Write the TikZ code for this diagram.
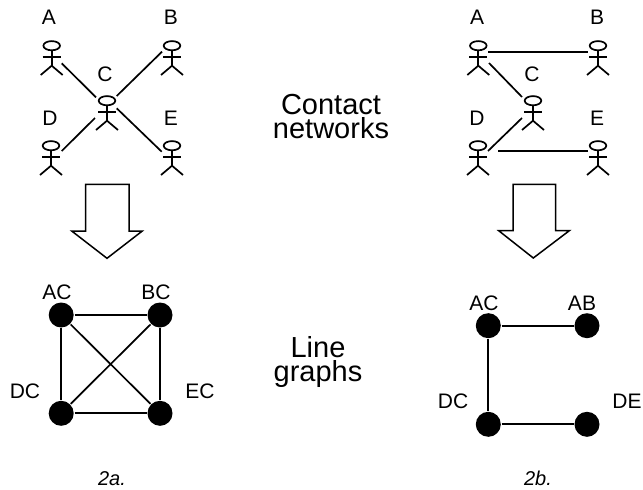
\documentclass[tikz,border=0pt]{standalone}
\usepackage{fontspec}
\setmainfont{Liberation Sans}
\tikzset{
  x=1pt,y=-1pt,
  every path/.style={line width=1.7pt,line join=miter},
  lbl/.style={anchor=base,inner sep=0pt,font=\fontsize{21}{24}\selectfont},
  cap2/.style={anchor=base,inner sep=0pt,font=\fontsize{20}{24}\selectfont\itshape},
  title2/.style={anchor=base,inner sep=0pt,align=center,font=\fontsize{29}{24}\selectfont},
  dot/.style={circle,fill=black,draw=none,minimum size=25pt,inner sep=0pt},
  stickman/.pic={
    \draw (0,0) ellipse [x radius=8.3,y radius=4.6];
    \draw (0,4.6) -- (0,20);
    \draw (-9,11.6) -- (9,11.6);
    \draw (-11,29.3) -- (0,20) -- (11,29.3);
  },
  bigarrow/.style={draw=black,fill=white,line width=1.5pt},
  link/.style={line width=1.7pt}
}
\begin{document}
\begin{tikzpicture}
\useasboundingbox (0,0) rectangle (643,490);
% --- 2a contact network
\foreach \n/\px/\py in {A/51.7/45.7,B/172/45.7,C/107/100.7,D/51/145.7,E/172/145.7}{
  \coordinate (a\n) at (\px,\py);
  \pic at (\px,\py) {stickman};
}
\node[lbl] (alA) at (49,24.3) {A};
\node[lbl] (alB) at (171,24.3) {B};
\node[lbl] (alC) at (105,81) {C};
\node[lbl] (alD) at (50,125) {D};
\node[lbl] (alE) at (171,125) {E};
\draw[link] ([shift={(10,17.6)}]aA) -- ([shift={(-11,-3.4)}]aC);
\draw[link] ([shift={(-10,6)}]aB) -- ([shift={(9.7,-4.7)}]aC);
\draw[link] ([shift={(10.7,5.3)}]aD) -- ([shift={(-12,17.3)}]aC);
\draw[link] ([shift={(9.7,7.6)}]aC) -- ([shift={(-10.3,6)}]aE);
% --- 2b contact network
\foreach \n/\px/\py in {A/478.3/45.7,B/598/45.7,C/533/100.7,D/478/145.7,E/598/145.7}{
  \coordinate (b\n) at (\px,\py);
  \pic at (\px,\py) {stickman};
}
\node[lbl] (blA) at (477,24.3) {A};
\node[lbl] (blB) at (597,24.3) {B};
\node[lbl] (blC) at (532,81) {C};
\node[lbl] (blD) at (477,125) {D};
\node[lbl] (blE) at (597,125) {E};
\draw[link] ([shift={(10,6.3)}]bA) -- ([shift={(-10,6.3)}]bB);
\draw[link] ([shift={(10.7,17.3)}]bA) -- ([shift={(-11,-3.7)}]bC);
\draw[link] ([shift={(10,5.3)}]bD) -- ([shift={(-11,17.3)}]bC);
\draw[link] ([shift={(20,5.3)}]bD) -- ([shift={(-10,5.3)}]bE);
% --- big arrows
\draw[bigarrow] (85.7,184.3) -- (129,184.3) -- (129,231) -- (142.3,231) -- (107,258.3) -- (71.7,231) -- (85.7,231) -- cycle;
\draw[bigarrow] (513,184.3) -- (555.7,184.3) -- (555.7,230.7) -- (569.3,230.7) -- (533.3,258) -- (498.7,230.7) -- (513,230.7) -- cycle;
% --- 2a line graph
\node[dot] (AC) at (61.2,315) {};
\node[dot] (BC) at (160,315) {};
\node[dot] (DC) at (61.2,413.3) {};
\node[dot] (EC) at (160,413.3) {};
\draw[link] (AC) -- (BC);
\draw[link] (AC) -- (DC);
\draw[link] (BC) -- (EC);
\draw[link] (DC) -- (EC);
\draw[link] (AC) -- (EC);
\draw[link] (BC) -- (DC);
\node[lbl] (lAC) at (57,299) {AC};
\node[lbl] (lBC) at (156,299) {BC};
\node[lbl] (lDC) at (25,398) {DC};
\node[lbl] (lEC) at (200,398) {EC};
% --- 2b line graph
\node[dot] (AC2) at (488.3,325.7) {};
\node[dot] (AB2) at (587,325.7) {};
\node[dot] (DC2) at (488.3,424.3) {};
\node[dot] (DE2) at (587,424.3) {};
\draw[link] (AC2) -- (AB2);
\draw[link] (AC2) -- (DC2);
\draw[link] (DC2) -- (DE2);
\node[lbl] (lAC2) at (484,310) {AC};
\node[lbl] (lAB2) at (582,310) {AB};
\node[lbl] (lDC2) at (453,408) {DC};
\node[lbl] (lDE2) at (627,408) {DE};
% --- titles
\node[title2] (t1) at (331,138) {Contact\\networks};
\node[title2] (t2) at (318,381) {Line\\graphs};
\node[cap2] (c1) at (112,485) {2a.};
\node[cap2] (c2) at (538,485) {2b.};
\end{tikzpicture}
\end{document}
